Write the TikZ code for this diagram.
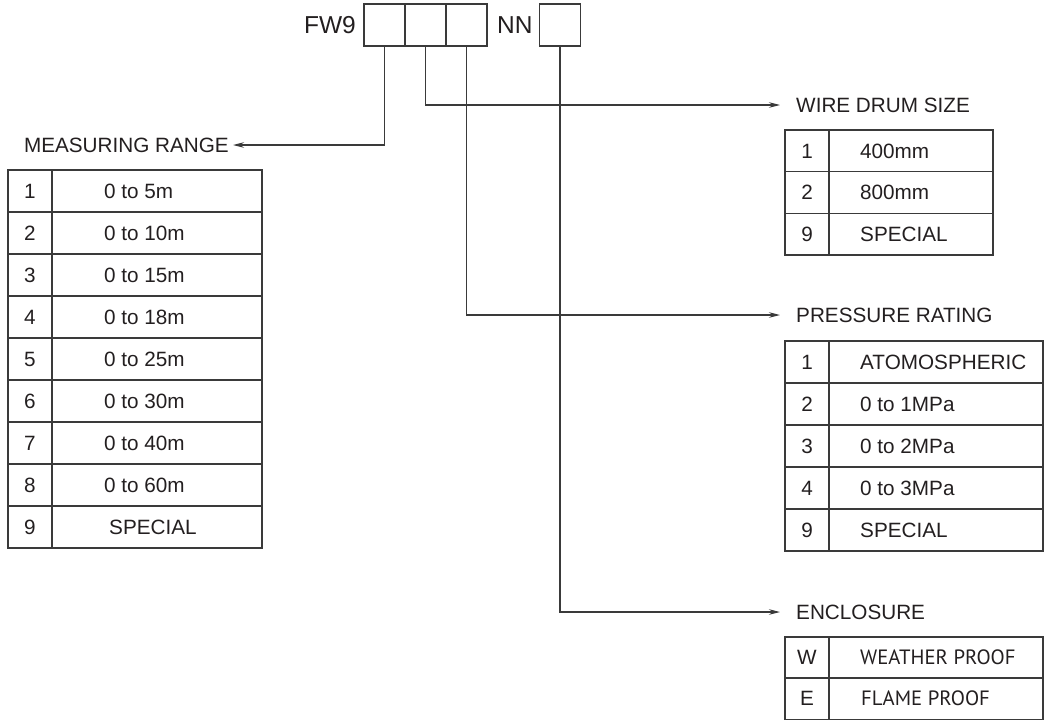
\documentclass[tikz,border=0pt]{standalone}
\usepackage{fontspec}
\setmainfont{Liberation Sans}
\newfontfamily\condfont{PT Sans}
\usetikzlibrary{arrows.meta}
\definecolor{ln}{HTML}{3A3A3A}
\definecolor{tx}{HTML}{231F20}
\begin{document}
\begin{tikzpicture}[x=1pt,y=-1pt,
 lbl/.style={inner sep=0pt, text height=14.8pt, text depth=0pt, font=\fontsize{20.7}{24}\selectfont, text=tx},
 biglbl/.style={inner sep=0pt, text height=17.5pt, text depth=0pt, font=\fontsize{24.5}{28}\selectfont, text=tx},
 codebox/.style={draw=ln, line width=1.2pt, minimum width=41pt, minimum height=42pt, inner sep=0pt},
 conn/.style={draw=ln, line width=1.2pt},
 arr/.style={conn, -{Stealth[length=11pt,width=5.5pt]}},
 gridln/.style={draw=ln, line width=1.2pt}]
\useasboundingbox (0,0) rectangle (1046,720);
% code boxes
\node[codebox] (b1) at (384.5,25) {};
\node[codebox] (b2) at (425.5,25) {};
\node[codebox] (b3) at (466.5,25) {};
\node[codebox] (b4) at (560,25) {};
\node[biglbl, anchor=east] (fw) at (356,25) {FW9};
\node[biglbl, anchor=west] (nn) at (497,25) {NN};
% labels
\node[lbl, anchor=east] (mr) at (229,145) {MEASURING RANGE};
\node[lbl, anchor=west] (wd) at (796,105) {WIRE DRUM SIZE};
\node[lbl, anchor=west] (pr) at (796,315) {PRESSURE RATING};
\node[lbl, anchor=west] (en) at (796,612) {ENCLOSURE};
% connectors
\draw[arr] (b1.south) |- ([xshift=4pt]mr.east);
\draw[arr] (b2.south) |- ([xshift=-16pt]wd.west);
\draw[arr] (b3.south) |- ([xshift=-16pt]pr.west);
\draw[arr] (b4.south) |- ([xshift=-16pt]en.west);
% measuring range table
\draw[gridln] (8,170) rectangle (262,548);
\draw[gridln] (52,170) -- (52,548);
\foreach \i in {1,...,8} {\pgfmathsetmacro\yy{170+42*\i}\draw[gridln] (8,\yy) -- (262,\yy);}
\foreach \n/\t [count=\k] in {1/0 to 5m,2/0 to 10m,3/0 to 15m,4/0 to 18m,5/0 to 25m,6/0 to 30m,7/0 to 40m,8/0 to 60m} {
  \pgfmathsetmacro\yy{191+42*(\k-1)}
  \node[lbl] (mrn\k) at (30,\yy) {\n};
  \node[lbl, anchor=west] (mrt\k) at (104,\yy) {\t};
}
\node[lbl] (mrn9) at (30,527) {9};
\node[lbl, anchor=west] (mrt9) at (109,527) {SPECIAL};
% wire drum table
\draw[gridln] (785,130) rectangle (993,255);
\draw[gridln] (829,130) -- (829,255);
\draw[gridln] (785,171.7) -- (993,171.7);
\draw[gridln] (785,213.3) -- (993,213.3);
\foreach \n/\t [count=\k] in {1/400mm,2/800mm,9/SPECIAL} {
  \pgfmathsetmacro\yy{150.8+41.7*(\k-1)}
  \node[lbl] (wdn\k) at (807,\yy) {\n};
  \node[lbl, anchor=west] (wdt\k) at (860,\yy) {\t};
}
% pressure table
\draw[gridln] (785,341) rectangle (1043,551);
\draw[gridln] (829,341) -- (829,551);
\foreach \i in {1,...,4} {\pgfmathsetmacro\yy{341+42*\i}\draw[gridln] (785,\yy) -- (1043,\yy);}
\foreach \n/\t [count=\k] in {1/ATOMOSPHERIC,2/0 to 1MPa,3/0 to 2MPa,4/0 to 3MPa,9/SPECIAL} {
  \pgfmathsetmacro\yy{362+42*(\k-1)}
  \node[lbl] (prn\k) at (807,\yy) {\n};
  \node[lbl, anchor=west] (prt\k) at (860,\yy) {\t};
}
% enclosure table
\draw[gridln] (785,637) rectangle (1043,719.4);
\draw[gridln] (829,637) -- (829,719.4);
\draw[gridln] (785,678) -- (1043,678);
\node[lbl] (enn1) at (807,657.5) {W};
\node[lbl, anchor=west, font=\fontsize{20.7}{24}\condfont] (ent1) at (860,657.5) {WEATHER PROOF};
\node[lbl] (enn2) at (807,698.5) {E};
\node[lbl, anchor=west, font=\fontsize{20.7}{24}\condfont] (ent2) at (861,698.5) {FLAME PROOF};
\end{tikzpicture}
\end{document}
